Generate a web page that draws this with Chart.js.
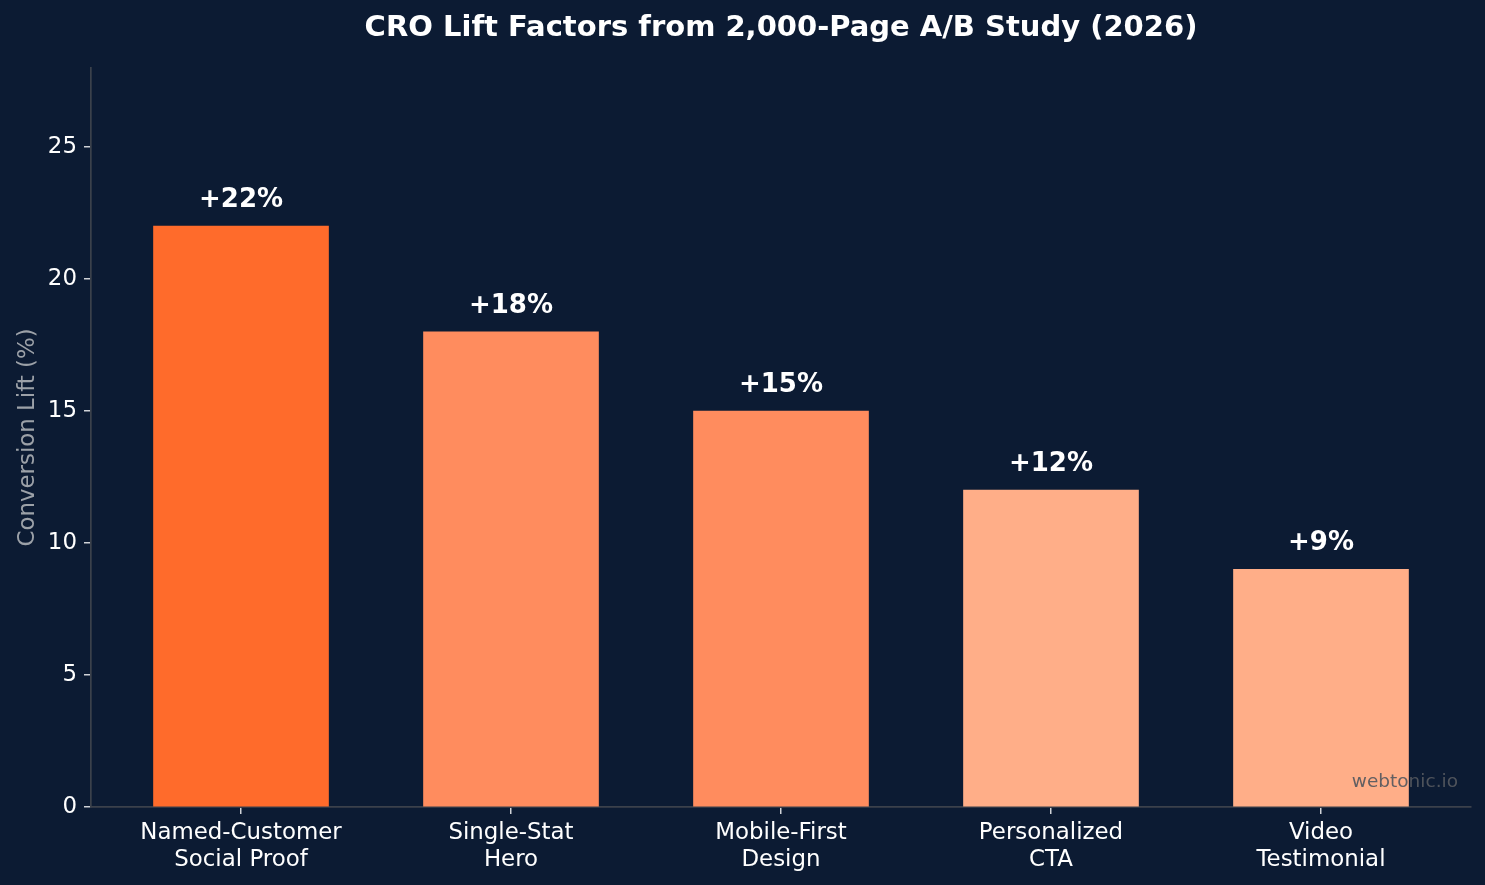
<!DOCTYPE html>
<html>
<head>
<meta charset="utf-8">
<script src="https://cdn.jsdelivr.net/npm/chart.js@4.4.1/dist/chart.umd.min.js"></script>
<style>
  html, body { margin: 0; padding: 0; background: #0c1b33; }
</style>
</head>
<body>
<canvas id="liftChart" width="1485" height="885"></canvas>
<script>
// data
const factors = [
  'Named-Customer\nSocial Proof',
  'Single-Stat\nHero',
  'Mobile-First\nDesign',
  'Personalized\nCTA',
  'Video\nTestimonial'
];
const liftValues = [22, 18, 15, 12, 9];
const liftLabels = ['+22%', '+18%', '+15%', '+12%', '+9%'];
const barColors = ['#ff6b2b', '#ff8c5e', '#ff8c5e', '#ffae88', '#ffae88'];
const yTicks = [0, 5, 10, 15, 20, 25];
const xTicks = [0, 1, 2, 3, 4];

const BG = '#0c1b33';
const FONT = "'DejaVu Sans', sans-serif";

// fond
const bgPlugin = {
  id: 'bg',
  beforeDraw(chart) {
    const ctx = chart.ctx;
    ctx.save();
    ctx.fillStyle = BG;
    ctx.fillRect(0, 0, chart.width, chart.height);
    ctx.restore();
  }
};

// +xx% over each bar, and the watermark
const labelPlugin = {
  id: 'barLabels',
  afterDatasetsDraw(chart) {
    const ctx = chart.ctx;
    const meta = chart.getDatasetMeta(0);
    ctx.save();
    ctx.font = 'bold 26px ' + FONT;
    ctx.fillStyle = '#ffffff';
    ctx.textAlign = 'center';
    ctx.textBaseline = 'alphabetic';
    meta.data.forEach((bar, i) => {
      ctx.fillText(liftLabels[i], bar.x, bar.y - 19);
    });

    const area = chart.chartArea;
    ctx.font = '18.5px ' + FONT;
    ctx.fillStyle = 'rgba(85, 88, 94, 0.92)';
    ctx.textAlign = 'right';
    ctx.fillText('webtonic.io', area.right - 13, area.bottom - 20);
    ctx.restore();
  }
};

new Chart(document.getElementById('liftChart').getContext('2d'), {
  type: 'bar',
  data: {
    datasets: [{
      data: liftValues.map((v, i) => ({ x: i, y: v })),
      backgroundColor: barColors,
      borderWidth: 0,
      barThickness: 175
    }]
  },
  options: {
    responsive: false,
    animation: false,
    layout: { padding: { left: 0, right: 14, top: 0, bottom: 0 } },
    plugins: {
      legend: { display: false },
      tooltip: { enabled: false },
      title: {
        display: true,
        fullSize: false,
        text: 'CRO Lift Factors from 2,000-Page A/B Study (2026)',
        color: '#ffffff',
        font: { family: FONT, size: 29, weight: 'bold' },
        padding: { top: 11, bottom: 22 }
      }
    },
    scales: {
      x: {
        type: 'linear',
        min: -0.5556,
        max: 4.5556,
        offset: false,
        afterBuildTicks: s => { s.ticks = xTicks.map(v => ({ value: v })); },
        afterFit: s => { s.height = 78; },
        ticks: {
          autoSkip: false,
          maxRotation: 0,
          color: '#ffffff',
          padding: 5,
          font: { family: FONT, size: 22.9, lineHeight: 1.2 },
          callback: v => factors[v] ? factors[v].split('\n') : ''
        },
        grid: { offset: false, drawOnChartArea: false, drawTicks: true, tickLength: 7, color: '#d0d3d8', lineWidth: 1.5 },
        border: { display: true, color: '#3b414b', width: 1.7 }
      },
      y: {
        min: 0,
        max: 28,
        afterBuildTicks: s => { s.ticks = yTicks.map(v => ({ value: v })); },
        afterFit: s => { s.width = 91; },
        ticks: {
          color: '#ffffff',
          padding: 7,
          font: { family: FONT, size: 22.9 }
        },
        title: {
          display: true,
          text: 'Conversion Lift (%)',
          color: '#9ca1a8',
          font: { family: FONT, size: 22.9 },
          padding: { top: 14, bottom: 0 }
        },
        grid: { drawOnChartArea: false, drawTicks: true, tickLength: 7, color: '#d0d3d8', lineWidth: 1.5 },
        border: { display: true, color: '#3b414b', width: 1.7 }
      }
    }
  },
  plugins: [bgPlugin, labelPlugin]
});
</script>
</body>
</html>
